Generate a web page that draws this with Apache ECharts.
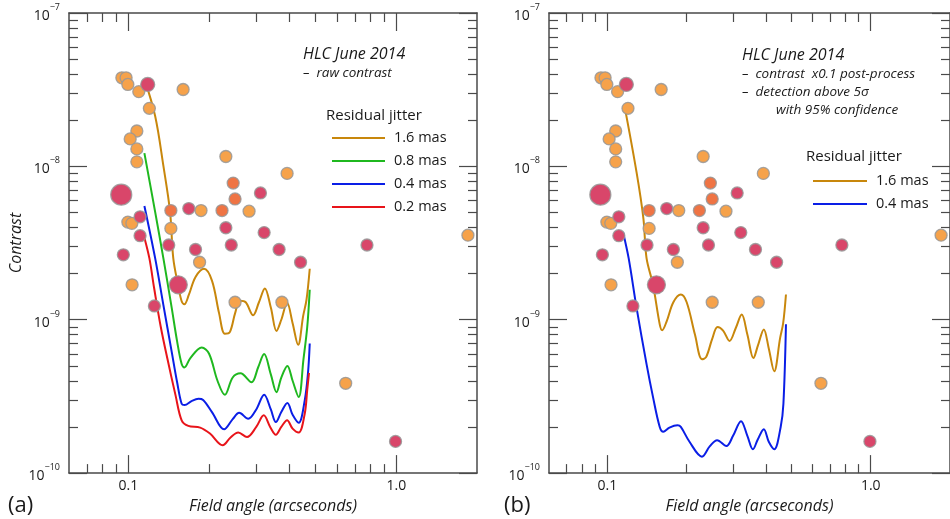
<!DOCTYPE html>
<html>
<head>
<meta charset="utf-8">
<script src="https://cdn.jsdelivr.net/npm/echarts@6/dist/echarts.min.js"></script>
<style>
html,body{margin:0;padding:0;background:#fff;}
#chart{width:950px;height:519px;}
</style>
</head>
<body>
<div id="chart"></div>
<script>
// ---------- DATA ----------
const xMajorTicks = [0.1, 1.0];
const xMajorLabels = ['0.1', '1.0'];
const xMinorTicks = [0.07, 0.08, 0.09, 0.2, 0.3, 0.4, 0.5, 0.6, 0.7, 0.8, 0.9];
const yMajorTicks = [1e-10, 1e-9, 1e-8, 1e-7];
const yMajorExponents = ['−10', '−9', '−8', '−7'];
const yMinorTicks = [2e-10, 3e-10, 4e-10, 5e-10, 6e-10, 7e-10, 8e-10, 9e-10,
                     2e-9, 3e-9, 4e-9, 5e-9, 6e-9, 7e-9, 8e-9, 9e-9,
                     2e-8, 3e-8, 4e-8, 5e-8, 6e-8, 7e-8, 8e-8, 9e-8];

// Known companions (field angle in arcsec, contrast)
const dotsOrange = [
  [0.0945, 3.78e-8], [0.098, 3.78e-8], [0.0995, 3.42e-8], [0.1093, 3.07e-8], [0.1197, 2.39e-8],
  [0.16, 3.17e-8], [0.1075, 1.70e-8], [0.1015, 1.51e-8], [0.1075, 1.30e-8], [0.1075, 1.07e-8],
  [0.231, 1.16e-8], [0.391, 9.0e-9], [0.1866, 5.15e-9], [0.282, 5.1e-9], [0.0995, 4.33e-9],
  [0.103, 4.25e-9], [0.144, 3.94e-9], [1.85, 3.56e-9], [0.1843, 2.37e-9], [0.1032, 1.69e-9],
  [0.25, 1.30e-9], [0.374, 1.30e-9], [0.647, 3.85e-10]
];
const dotsRedOrange = [
  [0.246, 7.78e-9], [0.25, 6.13e-9], [0.144, 5.15e-9], [0.2235, 5.15e-9]
];
const dotsCrimson = [
  [0.118, 3.42e-8], [0.168, 5.31e-9], [0.311, 6.71e-9], [0.1105, 4.69e-9], [0.1105, 3.53e-9],
  [0.231, 3.98e-9], [0.321, 3.7e-9], [0.1414, 3.07e-9], [0.242, 3.07e-9], [0.178, 2.87e-9],
  [0.365, 2.87e-9], [0.777, 3.07e-9], [0.0957, 2.65e-9], [0.439, 2.37e-9], [0.125, 1.23e-9],
  [0.993, 1.61e-10]
];
const dotsCrimsonLarge = [[0.094, 6.54e-9], [0.1535, 1.69e-9]];

// (a) raw contrast curves
const rawJitter16 = [
  [0.1147,3.72e-8],[0.1258,2.13e-8],[0.135,1.01e-8],[0.143,5.05e-9],[0.147,2.52e-9],[0.153,1.7e-9],
  [0.158,1.32e-9],[0.1617,1.26e-9],[0.168,1.45e-9],[0.178,1.9e-9],[0.1915,2.15e-9],[0.205,1.8e-9],
  [0.218,1.1e-9],[0.229,8.1e-10],[0.239,8.3e-10],[0.25,1.1e-9],[0.261,1.33e-9],[0.274,1.3e-9],
  [0.292,1.07e-9],[0.307,1.3e-9],[0.323,1.6e-9],[0.34,1.2e-9],[0.357,8.45e-10],[0.372,1.0e-9],
  [0.391,1.29e-9],[0.41,9.5e-10],[0.43,6.86e-10],[0.449,1.06e-9],[0.462,1.35e-9],[0.475,2.15e-9]
];
const rawJitter08 = [
  [0.1147,1.22e-8],[0.1258,5.05e-9],[0.135,2.52e-9],[0.145,1.2e-9],[0.152,7.2e-10],[0.158,5.14e-10],
  [0.1617,4.89e-10],[0.17,5.6e-10],[0.1877,6.59e-10],[0.2,6.0e-10],[0.215,4.0e-10],[0.229,3.24e-10],
  [0.245,4.2e-10],[0.262,4.47e-10],[0.288,3.91e-10],[0.305,4.9e-10],[0.321,5.97e-10],[0.34,4.4e-10],
  [0.357,3.37e-10],[0.372,4.2e-10],[0.392,5.0e-10],[0.41,4.0e-10],[0.432,3.13e-10],[0.45,5.5e-10],
  [0.465,9.0e-10],[0.475,1.57e-9]
];
const rawJitter04 = [
  [0.1147,5.52e-9],[0.1258,2.52e-9],[0.135,1.25e-9],[0.145,6.2e-10],[0.152,3.9e-10],[0.158,2.83e-10],
  [0.162,2.78e-10],[0.172,2.95e-10],[0.1825,3.05e-10],[0.19,3.0e-10],[0.205,2.5e-10],[0.2275,1.93e-10],
  [0.245,2.25e-10],[0.259,2.47e-10],[0.28,2.26e-10],[0.3,2.6e-10],[0.321,3.24e-10],[0.34,2.6e-10],
  [0.355,2.15e-10],[0.372,2.5e-10],[0.392,2.87e-10],[0.41,2.4e-10],[0.432,2.13e-10],[0.455,2.98e-10],
  [0.468,4.5e-10],[0.475,7.0e-10]
];
const rawJitter02 = [
  [0.1147,3.43e-9],[0.1197,2.52e-9],[0.1247,1.61e-9],[0.132,9.0e-10],[0.14,5.5e-10],[0.15,3.2e-10],
  [0.158,2.21e-10],[0.1673,2.03e-10],[0.1852,1.98e-10],[0.2015,1.81e-10],[0.2247,1.52e-10],[0.24,1.7e-10],
  [0.257,1.84e-10],[0.277,1.72e-10],[0.3,2.0e-10],[0.32,2.38e-10],[0.338,2.0e-10],[0.355,1.78e-10],
  [0.372,2.0e-10],[0.391,2.21e-10],[0.41,1.95e-10],[0.432,1.84e-10],[0.455,2.44e-10],[0.465,3.5e-10],
  [0.472,4.5e-10]
];
// (b) post-processed detection curves
const postJitter16 = [
  [0.116,2.5e-8],[0.129,9.17e-9],[0.137,4.57e-9],[0.1408,2.52e-9],[0.149,1.69e-9],[0.158,9.33e-10],
  [0.1614,8.53e-10],[0.168,9.8e-10],[0.178,1.3e-9],[0.19,1.46e-9],[0.2,1.3e-9],[0.215,8.0e-10],
  [0.2286,5.53e-10],[0.237,5.7e-10],[0.25,7.5e-10],[0.262,8.97e-10],[0.275,8.5e-10],[0.291,7.28e-10],
  [0.307,8.8e-10],[0.3236,1.08e-9],[0.34,8.0e-10],[0.3585,5.62e-10],[0.373,6.8e-10],[0.3926,8.65e-10],
  [0.41,6.5e-10],[0.43,4.61e-10],[0.453,7.64e-10],[0.465,9.5e-10],[0.4765,1.46e-9]
];
const postJitter04 = [
  [0.1147,3.71e-9],[0.1204,2.52e-9],[0.129,1.2e-9],[0.1408,5.14e-10],[0.149,3.13e-10],[0.158,2.0e-10],
  [0.163,1.86e-10],[0.172,1.98e-10],[0.1846,2.05e-10],[0.19,2.0e-10],[0.205,1.6e-10],[0.2286,1.28e-10],
  [0.245,1.5e-10],[0.261,1.64e-10],[0.283,1.5e-10],[0.3,1.75e-10],[0.3216,2.18e-10],[0.34,1.75e-10],
  [0.357,1.43e-10],[0.372,1.65e-10],[0.3926,1.93e-10],[0.41,1.6e-10],[0.43,1.43e-10],[0.455,2.0e-10],
  [0.466,2.83e-10],[0.4765,9.33e-10]
];

// ---------- STYLE ----------
const FONT = '"Open Sans", "Noto Sans", sans-serif';
const AX = '#4a4a4a';
const C16 = '#C8870C', C08 = '#1FB81F', C04 = '#0A1EE6', C02 = '#E8141A';
const ORANGE = '#F6A24A', REDORANGE = '#EF7444', CRIMSON = '#D9466A';

function nearestLabel(v, ticks, labels) {
  let best = 0, bd = Infinity;
  ticks.forEach((t, i) => { const d = Math.abs(Math.log10(v) - Math.log10(t)); if (d < bd) { bd = d; best = i; } });
  return labels[best];
}

function xAxesFor(gi) {
  const base = { type: 'log', logBase: 10, gridIndex: gi, min: 0.06, max: 2.0, splitLine: { show: false } };
  const line = { show: true, onZero: false, lineStyle: { color: AX, width: 1.5 } };
  const major = { show: true, inside: true, length: 18, customValues: xMajorTicks, lineStyle: { color: AX, width: 1.2 } };
  const minor = { show: true, inside: true, length: 9, customValues: xMinorTicks, lineStyle: { color: AX, width: 1.2 } };
  return [
    Object.assign({}, base, {
      position: 'bottom', axisLine: line, axisTick: major,
      axisLabel: { show: true, customValues: xMajorTicks, margin: 6, fontSize: 14, color: '#1a1a1a', fontFamily: FONT,
        formatter: v => nearestLabel(v, xMajorTicks, xMajorLabels) },
      name: 'Field angle (arcseconds)', nameLocation: 'middle', nameGap: 14,
      nameTextStyle: { fontSize: 16, fontStyle: 'italic', color: '#1a1a1a', fontFamily: FONT }
    }),
    Object.assign({}, base, { position: 'bottom', axisLine: { show: false }, axisTick: minor, axisLabel: { show: false } }),
    Object.assign({}, base, { position: 'top', axisLine: line, axisTick: major, axisLabel: { show: false } }),
    Object.assign({}, base, { position: 'top', axisLine: { show: false }, axisTick: minor, axisLabel: { show: false } })
  ];
}

function yAxesFor(gi, withName) {
  const base = { type: 'log', logBase: 10, gridIndex: gi, min: 1e-10, max: 1e-7, splitLine: { show: false } };
  const line = { show: true, onZero: false, lineStyle: { color: AX, width: 1.5 } };
  const major = { show: true, inside: true, length: 18, customValues: yMajorTicks, lineStyle: { color: AX, width: 1.2 } };
  const minor = { show: true, inside: true, length: 9, customValues: yMinorTicks, lineStyle: { color: AX, width: 1.2 } };
  const main = Object.assign({}, base, {
    position: 'left', axisLine: line, axisTick: major,
    axisLabel: { show: true, customValues: yMajorTicks, margin: 9, showMinLabel: true, showMaxLabel: true,
      formatter: v => '{b|10}{s|' + nearestLabel(v, yMajorTicks, yMajorExponents) + '}',
      rich: {
        b: { fontSize: 14, color: '#1a1a1a', fontFamily: FONT, verticalAlign: 'bottom', lineHeight: 20 },
        s: { fontSize: 9, color: '#1a1a1a', fontFamily: FONT, verticalAlign: 'top', lineHeight: 20 }
      } }
  });
  if (withName) {
    Object.assign(main, { name: 'Contrast', nameLocation: 'middle', nameGap: 44, nameRotate: 90,
      nameTextStyle: { fontSize: 16, fontStyle: 'italic', color: '#1a1a1a', fontFamily: FONT } });
  }
  return [
    main,
    Object.assign({}, base, { position: 'left', axisLine: { show: false }, axisTick: minor, axisLabel: { show: false } }),
    Object.assign({}, base, { position: 'right', axisLine: line, axisTick: major, axisLabel: { show: false } }),
    Object.assign({}, base, { position: 'right', axisLine: { show: false }, axisTick: minor, axisLabel: { show: false } })
  ];
}

function lineSeries(name, data, color, gi) {
  return { type: 'line', name, data, xAxisIndex: gi * 4, yAxisIndex: gi * 4, showSymbol: false, smooth: 0.35,
    lineStyle: { color, width: 2 }, itemStyle: { color }, z: 3, silent: true };
}
function dotSeries(name, data, color, size, gi) {
  return { type: 'scatter', name, data, xAxisIndex: gi * 4, yAxisIndex: gi * 4, symbolSize: size, z: 5, silent: true,
    itemStyle: { color, borderColor: 'rgba(150,150,150,0.85)', borderWidth: 1.3, opacity: 1 } };
}
function dotsFor(gi) {
  return [
    dotSeries('o' + gi, dotsOrange, ORANGE, 12, gi),
    dotSeries('ro' + gi, dotsRedOrange, REDORANGE, 12, gi),
    dotSeries('c' + gi, dotsCrimson, CRIMSON, (v, p) => (p.dataIndex === 0 ? 14 : 12), gi),
    dotSeries('cl' + gi, dotsCrimsonLarge, CRIMSON, (v, p) => (p.dataIndex === 0 ? 21 : 18), gi)
  ];
}

function txt(x, y, text, font, extra) {
  return { type: 'text', x, y, silent: true, style: Object.assign({ text, font, fill: '#1a1a1a', verticalAlign: 'middle', textAlign: 'left' }, extra || {}) };
}
const IT16 = 'italic 16px ' + FONT, IT14 = 'italic 14px ' + FONT, IT13 = 'italic 13.5px ' + FONT, N15 = '15px ' + FONT;

const chart = echarts.init(document.getElementById('chart'), null, { renderer: 'canvas' });
chart.setOption({
  backgroundColor: '#ffffff',
  animation: false,
  grid: [
    { left: 69, top: 13, width: 408, height: 463.5, containLabel: false },
    { left: 549, top: 13, width: 410, height: 463.5, containLabel: false }
  ],
  xAxis: xAxesFor(0).concat(xAxesFor(1)),
  yAxis: yAxesFor(0, true).concat(yAxesFor(1, false)),
  legend: [
    { orient: 'vertical', left: 332, top: 126.5, padding: 0, itemGap: 0, itemWidth: 53, itemHeight: 2, icon: 'rect',
      selectedMode: false, data: ['1.6 mas', '0.8 mas', '0.4 mas', '0.2 mas'],
      textStyle: { fontSize: 14.5, color: '#1a1a1a', fontFamily: FONT, lineHeight: 23, padding: [0, 0, 0, 4] } },
    { orient: 'vertical', left: 813, top: 169.5, padding: 0, itemGap: 0, itemWidth: 54, itemHeight: 2, icon: 'rect',
      selectedMode: false, data: ['1.6 mas', '0.4 mas'],
      textStyle: { fontSize: 14.5, color: '#1a1a1a', fontFamily: FONT, lineHeight: 23, padding: [0, 0, 0, 4] } }
  ],
  graphic: [
    txt(303, 54, 'HLC June 2014', IT16),
    txt(303, 73, '–  raw contrast', IT13),
    txt(326, 116, 'Residual jitter', N15),
    txt(742, 55, 'HLC June 2014', IT16),
    txt(742, 74, '–  contrast  x0.1 post-process', IT13),
    txt(742, 92, '–  detection above 5σ', IT13),
    txt(776, 110, 'with 95% confidence', IT13),
    txt(806, 157, 'Residual jitter', N15),
    txt(8, 506, '(a)', '22px ' + FONT),
    txt(504, 506, '(b)', '22px ' + FONT)
  ],
  series: [
    lineSeries('1.6 mas', rawJitter16, C16, 0),
    lineSeries('0.8 mas', rawJitter08, C08, 0),
    lineSeries('0.4 mas', rawJitter04, C04, 0),
    lineSeries('0.2 mas', rawJitter02, C02, 0),
    lineSeries('1.6 mas', postJitter16, C16, 1),
    lineSeries('0.4 mas', postJitter04, C04, 1)
  ].concat(dotsFor(0)).concat(dotsFor(1))
});
</script>
</body>
</html>
